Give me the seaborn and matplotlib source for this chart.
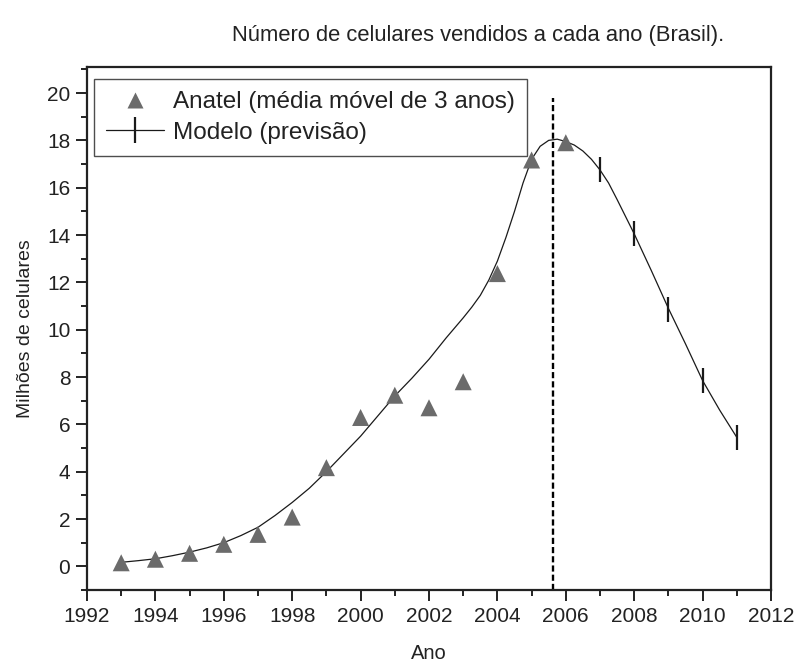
import matplotlib
matplotlib.use("Agg")
import matplotlib.pyplot as plt
from matplotlib.lines import Line2D
from matplotlib.ticker import MultipleLocator
import seaborn as sns
import pandas as pd

# Anatel data (3-year moving average), millions
anatel_years = [1993, 1994, 1995, 1996, 1997, 1998, 1999, 2000, 2001, 2002, 2003, 2004, 2005, 2006]
anatel_values = [0.15, 0.3, 0.55, 0.93, 1.35, 2.08, 4.17, 6.29, 7.23, 6.7, 7.8, 12.37, 17.17, 17.9]

# Model curve
model_curve_years = [1993.0, 1993.5, 1994.0, 1994.5, 1995.0, 1995.5, 1996.0, 1996.5, 1997.0, 1997.5,
                     1998.0, 1998.5, 1999.0, 1999.5, 2000.0, 2000.5, 2001.0, 2001.5, 2002.0, 2002.5,
                     2003.0, 2003.25, 2003.5, 2003.75, 2004.0, 2004.25, 2004.5, 2004.75, 2005.0, 2005.25,
                     2005.5, 2005.75, 2006.0, 2006.25, 2006.5, 2006.75, 2007.0, 2007.25, 2007.5, 2008.0,
                     2008.5, 2009.0, 2009.5, 2010.0, 2010.5, 2011.0]
model_curve_values = [0.17, 0.24, 0.32, 0.45, 0.6, 0.78, 1.0, 1.3, 1.65, 2.15,
                      2.7, 3.3, 4.0, 4.75, 5.5, 6.35, 7.2, 7.95, 8.75, 9.65,
                      10.5, 10.95, 11.45, 12.1, 12.9, 13.9, 15.0, 16.2, 17.2, 17.75,
                      18.0, 18.05, 17.95, 17.8, 17.55, 17.2, 16.75, 16.2, 15.5, 14.05,
                      12.5, 10.9, 9.4, 7.85, 6.6, 5.45]

# Forecast markers
forecast_years = [2007, 2008, 2009, 2010, 2011]
forecast_values = [16.8, 14.07, 10.87, 7.86, 5.45]

peak_year = 2005.63
peak_line_top = 19.8

x_ticks = [1992, 1994, 1996, 1998, 2000, 2002, 2004, 2006, 2008, 2010, 2012]
y_ticks = [0, 2, 4, 6, 8, 10, 12, 14, 16, 18, 20]

title = "Número de celulares vendidos a cada ano (Brasil)."
xlabel = "Ano"
ylabel = "Milhões de celulares"
legend_labels = ["Anatel (média móvel de 3 anos)", "Modelo (previsão)"]

sns.set_theme(style="white")
plt.rcParams['font.family'] = ['Liberation Sans', 'DejaVu Sans']

fig = plt.figure(figsize=(7.98, 6.66), dpi=100)
ax = fig.add_axes([87/798, 1-590/666, (771-87)/798, (590-67)/666])

df_a = pd.DataFrame({"ano": anatel_years, "val": anatel_values})
df_c = pd.DataFrame({"ano": model_curve_years, "val": model_curve_values})
df_f = pd.DataFrame({"ano": forecast_years, "val": forecast_values})

sns.lineplot(data=df_c, x="ano", y="val", ax=ax, color="#1a1a1a", lw=0.9, sort=False)
ax.plot(df_f["ano"], df_f["val"], ls="none", marker="|", ms=18, mew=1.6, color="#1a1a1a")
sns.scatterplot(data=df_a, x="ano", y="val", ax=ax, marker="^", s=150, color="#6b6b6b",
                edgecolor="none", linewidth=0, zorder=3)
ax.vlines(peak_year, -1, peak_line_top, colors="black", linestyles=(0, (2.6, 1.3)), lw=1.7)

ax.set_xlim(1992, 2012)
ax.set_ylim(-1, 21.1)
ax.set_xticks(x_ticks)
ax.set_yticks(y_ticks)
ax.xaxis.set_minor_locator(MultipleLocator(1))
ax.yaxis.set_minor_locator(MultipleLocator(1))
tick_font = ['Liberation Sans Narrow', 'Liberation Sans', 'DejaVu Sans']
ax.set_xticklabels([str(t) for t in x_ticks], family=tick_font, fontsize=15, color="#222222")
ax.set_yticklabels([str(t) for t in y_ticks], family=tick_font, fontsize=15, color="#222222")
ax.tick_params(which="major", direction="out", length=8, width=1.4, color="#222222",
               bottom=True, left=True, top=False, right=False, pad=4)
ax.tick_params(which="minor", direction="out", length=4.5, width=1.4, color="#222222",
               bottom=True, left=True, top=False, right=False)
for sp in ax.spines.values():
    sp.set_color("#222222")
    sp.set_linewidth(1.6)

ax.set_xlabel(xlabel, fontsize=14.5, color="#222222", labelpad=13)
ax.set_ylabel(ylabel, fontsize=14, color="#222222", labelpad=9)
fig.text(478/798, 1-36/666, title, ha="center", va="center", fontsize=15.8, color="#222222")

handles = [
    Line2D([], [], ls="none", marker="^", ms=12, color="#6b6b6b", mec="none"),
    Line2D([], [], ls="-", lw=0.9, marker="|", ms=19, mew=1.6, color="#1a1a1a"),
]
leg = ax.legend(handles, legend_labels, loc="upper left", bbox_to_anchor=(0.010, 0.977),
                borderaxespad=0, fontsize=17.5, frameon=True, fancybox=False, handlelength=2.4,
                handletextpad=0.35, labelspacing=0.35, borderpad=0.5, labelcolor="#222222")
leg.get_frame().set_edgecolor("#222222")
leg.get_frame().set_linewidth(1.0)

fig.savefig("out.png", dpi=100)
